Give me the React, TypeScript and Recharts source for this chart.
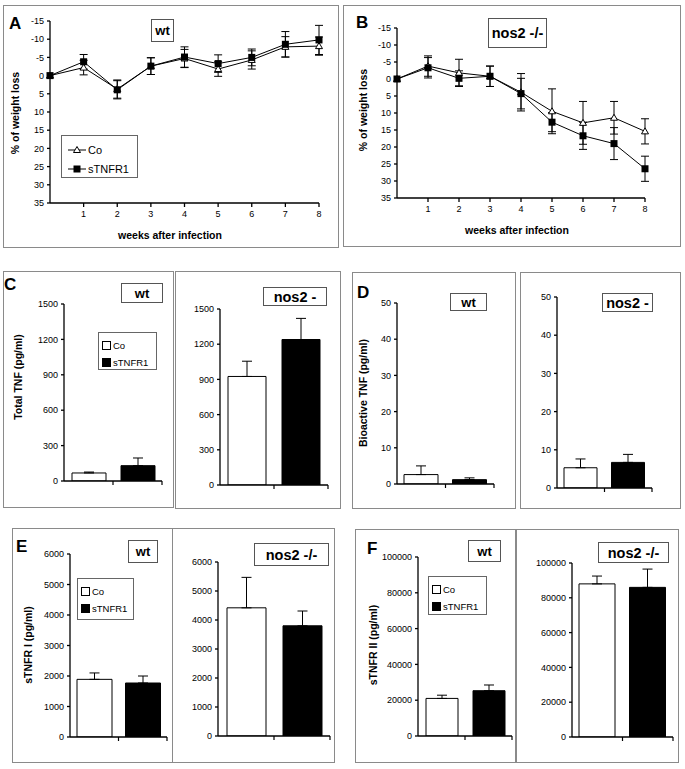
import React from "react";
import {
  LineChart,
  Line,
  BarChart,
  Bar,
  Cell,
  XAxis,
  YAxis,
  ErrorBar,
} from "recharts";

const FONT = '"Liberation Sans", Arial, Helvetica, sans-serif';

// ---- weight loss (panels A, B) ----
const weeks = [0, 1, 2, 3, 4, 5, 6, 7, 8];
const weekTicks = [1, 2, 3, 4, 5, 6, 7, 8];
const lossTicks = [-15, -10, -5, 0, 5, 10, 15, 20, 25, 30, 35];

const wtCo = [0, -2.2, 3.7, -2.6, -4.7, -1.8, -4.3, -7.9, -8.1];
const wtCoErr = [0, 2, 2.5, 2.3, 2.5, 2, 2.5, 2.8, 2.5];
const wtS = [0, -3.8, 3.9, -2.6, -5.1, -3.3, -5.0, -8.6, -9.8];
const wtSErr = [0, 2, 2.5, 2.3, 2.8, 2.4, 2.3, 3.5, 4];

const nosCo = [0, -3.8, -1.8, -0.8, 3.9, 9.5, 12.9, 11.4, 15.4];
const nosCoErr = [0, 3, 4, 3, 5.5, 6.6, 6.3, 4.8, 3.7];
const nosS = [0, -3.3, -0.2, -0.8, 4.3, 12.7, 16.7, 19.0, 26.4];
const nosSErr = [0, 3, 2.2, 3, 4.5, 2.8, 4, 4.7, 3.7];

// ---- bar panels (C-F) ----
const groups = ["Co", "sTNFR1"];

const totalTnfTicks = [0, 300, 600, 900, 1200, 1500];
const totalTnfWt = [68, 130];
const totalTnfWtErr = [8, 65];
const totalTnfNos = [925, 1240];
const totalTnfNosErr = [130, 180];

const bioTnfTicks = [0, 10, 20, 30, 40, 50];
const bioTnfWt = [2.6, 1.2];
const bioTnfWtErr = [2.4, 0.5];
const bioTnfNos = [5.3, 6.7];
const bioTnfNosErr = [2.3, 2.1];

const stnfr1Ticks = [0, 1000, 2000, 3000, 4000, 5000, 6000];
const stnfr1Wt = [1890, 1770];
const stnfr1WtErr = [210, 230];
const stnfr1Nos = [4420, 3800];
const stnfr1NosErr = [1050, 510];

const stnfr2Ticks = [0, 20000, 40000, 60000, 80000, 100000];
const stnfr2Wt = [21000, 25300];
const stnfr2WtErr = [1800, 3200];
const stnfr2Nos = [88000, 86000];
const stnfr2NosErr = [4500, 10500];

const tickStyle = { fontSize: 9, fill: "#000", fontFamily: FONT };

function Frame({ x, y, w, h, color = "#8a8a8a" }: any) {
  return (
    <div
      style={{
        position: "absolute",
        left: x,
        top: y,
        width: w,
        height: h,
        border: `1px solid ${color}`,
        boxSizing: "border-box",
      }}
    />
  );
}

function Tag({ x, y, w, h, text, size = 14 }: any) {
  return (
    <div
      style={{
        position: "absolute",
        left: x,
        top: y,
        width: w,
        height: h,
        border: "1px solid #555",
        boxSizing: "border-box",
        background: "#fff",
        display: "flex",
        alignItems: "center",
        justifyContent: "center",
        fontWeight: "bold",
        fontSize: size,
        whiteSpace: "nowrap",
      }}
    >
      {text}
    </div>
  );
}

function Letter({ x, y, text }: any) {
  return (
    <div style={{ position: "absolute", left: x, top: y, fontSize: 17, fontWeight: "bold", lineHeight: 1 }}>
      {text}
    </div>
  );
}

function SideLabel({ cx, cy, text }: any) {
  return (
    <div
      style={{
        position: "absolute",
        left: cx,
        top: cy,
        transform: "translate(-50%, -50%) rotate(-90deg)",
        fontSize: 10.5,
        fontWeight: "bold",
        whiteSpace: "nowrap",
      }}
    >
      {text}
    </div>
  );
}

function BottomLabel({ cx, cy, text }: any) {
  return (
    <div
      style={{
        position: "absolute",
        left: cx,
        top: cy,
        transform: "translate(-50%, -50%)",
        fontSize: 10.5,
        fontWeight: "bold",
        whiteSpace: "nowrap",
      }}
    >
      {text}
    </div>
  );
}

function Triangle(props: any) {
  const { cx, cy, index } = props;
  if (cx == null || cy == null) return <g key={`t${index}`} />;
  return (
    <path
      key={`t${index}`}
      d={`M${cx},${cy - 3.5} L${cx + 3.5},${cy + 2.5} L${cx - 3.5},${cy + 2.5} Z`}
      fill="#fff"
      stroke="#000"
      strokeWidth={1}
    />
  );
}

function Square(props: any) {
  const { cx, cy, index } = props;
  if (cx == null || cy == null) return <g key={`s${index}`} />;
  return <rect key={`s${index}`} x={cx - 3.5} y={cy - 3.5} width={7} height={7} fill="#000" />;
}

function WeightChart({ co, coErr, s, sErr, g }: any) {
  const data = weeks.map((w, i) => ({ week: w, co: co[i], coErr: coErr[i], s: s[i], sErr: sErr[i] }));
  const yW = 40;
  const mt = 6;
  const mr = 8;
  const xH = 20;
  const width = yW + (g.right - g.ax) + mr;
  const height = g.bottom - g.top + mt + xH;
  return (
    <div style={{ position: "absolute", left: g.ax - yW, top: g.top - mt }}>
      <LineChart width={width} height={height} data={data} margin={{ top: mt, right: mr, bottom: 0, left: 0 }}>
        <XAxis
          type="number"
          dataKey="week"
          domain={[0, 8]}
          ticks={weekTicks}
          interval={0}
          height={xH}
          tickSize={4}
          tickMargin={4}
          stroke="#000"
          strokeWidth={1.3}
          tick={tickStyle}
        />
        <YAxis
          reversed
          domain={[-15, 35]}
          ticks={lossTicks}
          interval={0}
          width={yW}
          tickSize={3}
          tickMargin={3}
          stroke="#000"
          strokeWidth={1.3}
          tick={tickStyle}
        />
        <Line
          dataKey="co"
          stroke="#000"
          strokeWidth={1}
          dot={Triangle}
          activeDot={false}
          isAnimationActive={false}
        >
          <ErrorBar dataKey="coErr" width={4} stroke="#000" strokeWidth={1} direction="y" />
        </Line>
        <Line
          dataKey="s"
          stroke="#000"
          strokeWidth={1}
          dot={Square}
          activeDot={false}
          isAnimationActive={false}
        >
          <ErrorBar dataKey="sErr" width={4} stroke="#000" strokeWidth={1} direction="y" />
        </Line>
      </LineChart>
    </div>
  );
}

function BarBlock({ vals, errs, ticks, g, barSize }: any) {
  const rows = groups.map((name, i) => ({ name, value: vals[i], err: [0, errs[i]] }));
  const yW = 46;
  const mt = 6;
  const mr = 6;
  const xH = 8;
  const plotW = g.right - g.ax;
  const hb = plotW / 4;
  const width = yW + plotW + mr;
  const height = g.bottom - g.top + mt + xH;
  const max = ticks[ticks.length - 1];
  return (
    <div style={{ position: "absolute", left: g.ax - yW, top: g.top - mt }}>
      <BarChart
        width={width}
        height={height}
        data={rows}
        margin={{ top: mt, right: mr, bottom: 0, left: 0 }}
        barCategoryGap={0}
      >
        <XAxis
          dataKey="name"
          height={xH}
          interval={0}
          tickSize={0}
          tickMargin={0}
          stroke="#000"
          strokeWidth={1.3}
          tick={(p: any) => (
            <line key={`x${p.index}`} x1={p.x + hb} x2={p.x + hb} y1={p.y} y2={p.y + 4} stroke="#000" strokeWidth={1.2} />
          )}
        />
        <YAxis
          domain={[0, max]}
          ticks={ticks}
          interval={0}
          width={yW}
          tickSize={3}
          tickMargin={3}
          stroke="#000"
          strokeWidth={1.3}
          tick={tickStyle}
          allowDataOverflow
        />
        <Bar dataKey="value" barSize={barSize} isAnimationActive={false}>
          {rows.map((r, i) => (
            <Cell key={r.name} fill={i === 0 ? "#fff" : "#000"} stroke="#000" strokeWidth={1} />
          ))}
          <ErrorBar dataKey="err" width={5} stroke="#000" strokeWidth={1} direction="y" />
        </Bar>
      </BarChart>
    </div>
  );
}

function BarLegend({ x, y, w, h }: any) {
  return (
    <div
      style={{
        position: "absolute",
        left: x,
        top: y,
        width: w,
        height: h,
        border: "1px solid #666",
        boxSizing: "border-box",
        background: "#fff",
        fontSize: 9.5,
        padding: "5px 0 0 3px",
      }}
    >
      <div style={{ display: "flex", alignItems: "center", height: 15 }}>
        <span style={{ width: 7, height: 7, border: "1px solid #000", background: "#fff", marginRight: 2 }} />
        Co
      </div>
      <div style={{ display: "flex", alignItems: "center", height: 15, marginTop: 2 }}>
        <span style={{ width: 9, height: 9, background: "#000", marginRight: 2 }} />
        sTNFR1
      </div>
    </div>
  );
}

function LineLegend({ x, y, w, h }: any) {
  return (
    <div
      style={{
        position: "absolute",
        left: x,
        top: y,
        width: w,
        height: h,
        border: "1px solid #666",
        boxSizing: "border-box",
        background: "#fff",
        fontSize: 11,
        padding: "6px 0 0 6px",
      }}
    >
      <div style={{ display: "flex", alignItems: "center", height: 16 }}>
        <svg width={18} height={10} style={{ marginRight: 2 }}>
          <line x1={0} y1={5} x2={18} y2={5} stroke="#000" />
          <path d="M9,1.5 L12.5,7.5 L5.5,7.5 Z" fill="#fff" stroke="#000" />
        </svg>
        Co
      </div>
      <div style={{ display: "flex", alignItems: "center", height: 16, marginTop: 3 }}>
        <svg width={18} height={10} style={{ marginRight: 2 }}>
          <line x1={0} y1={5} x2={18} y2={5} stroke="#000" />
          <rect x={5.5} y={1.5} width={7} height={7} fill="#000" />
        </svg>
        sTNFR1
      </div>
    </div>
  );
}

export default function App() {
  return (
    <div
      style={{
        position: "absolute",
        left: 0,
        top: 0,
        width: 685,
        height: 769,
        background: "#fff",
        fontFamily: FONT,
        color: "#000",
        overflow: "hidden",
      }}
    >
      {/* A */}
      <Frame x={3} y={5} w={336} h={243} />
      <WeightChart co={wtCo} coErr={wtCoErr} s={wtS} sErr={wtSErr} g={{ ax: 50, top: 21, bottom: 203, right: 319 }} />
      <Letter x={9} y={15} text="A" />
      <Tag x={151} y={19} w={23} h={23} text="wt" size={13} />
      <LineLegend x={61} y={135} w={77} h={43} />
      <SideLabel cx={15} cy={113} text="% of weight loss" />
      <BottomLabel cx={170} cy={235} text="weeks after infection" />

      {/* B */}
      <Frame x={343} y={5} w={338} h={242} />
      <WeightChart co={nosCo} coErr={nosCoErr} s={nosS} sErr={nosSErr} g={{ ax: 397, top: 28, bottom: 198, right: 645 }} />
      <Letter x={356} y={14} text="B" />
      <Tag x={488} y={18} w={59} h={30} text="nos2 -/-" size={14.5} />
      <SideLabel cx={363} cy={110} text="% of weight loss" />
      <BottomLabel cx={517} cy={230} text="weeks after infection" />

      {/* C */}
      <Frame x={3} y={271} w={171} h={237} />
      <Frame x={175} y={271} w={166} h={238} />
      <BarBlock vals={totalTnfWt} errs={totalTnfWtErr} ticks={totalTnfTicks} g={{ ax: 64, top: 304, bottom: 481, right: 162 }} barSize={34} />
      <BarBlock vals={totalTnfNos} errs={totalTnfNosErr} ticks={totalTnfTicks} g={{ ax: 220, top: 309, bottom: 485, right: 328 }} barSize={38} />
      <Letter x={4} y={276} text="C" />
      <Tag x={121} y={283} w={42} h={20} text="wt" size={13} />
      <Tag x={263} y={287} w={64} h={19} text="nos2 -" size={14.5} />
      <BarLegend x={98} y={332} w={59} h={38} />
      <SideLabel cx={18} cy={377} text="Total TNF (pg/ml)" />

      {/* D */}
      <Frame x={352} y={272} w={164} h={237} />
      <Frame x={520} y={272} w={161} h={237} />
      <BarBlock vals={bioTnfWt} errs={bioTnfWtErr} ticks={bioTnfTicks} g={{ ax: 397, top: 303, bottom: 484, right: 494 }} barSize={34} />
      <BarBlock vals={bioTnfNos} errs={bioTnfNosErr} ticks={bioTnfTicks} g={{ ax: 557, top: 297, bottom: 488, right: 652 }} barSize={33} />
      <Letter x={357} y={284} text="D" />
      <Tag x={450} y={293} w={37} h={18} text="wt" size={13} />
      <Tag x={602} y={293} w={51} h={19} text="nos2 -" size={14.5} />
      <SideLabel cx={363} cy={393} text="Bioactive TNF (pg/ml)" />

      {/* E */}
      <Frame x={12} y={528} w={161} h={235} />
      <Frame x={172} y={528} w={163} h={235} />
      <BarBlock vals={stnfr1Wt} errs={stnfr1WtErr} ticks={stnfr1Ticks} g={{ ax: 70, top: 554, bottom: 737, right: 167 }} barSize={35} />
      <BarBlock vals={stnfr1Nos} errs={stnfr1NosErr} ticks={stnfr1Ticks} g={{ ax: 218, top: 562, bottom: 736, right: 330 }} barSize={39} />
      <Letter x={16} y={538} text="E" />
      <Tag x={128} y={540} w={30} h={23} text="wt" size={13} />
      <Tag x={254} y={543} w={75} h={23} text="nos2 -/-" size={14.5} />
      <BarLegend x={77} y={578} w={57} h={42} />
      <SideLabel cx={28} cy={645} text="sTNFR I (pg/ml)" />

      {/* F */}
      <Frame x={355} y={529} w={161} h={234} />
      <Frame x={516} y={529} w={163} h={234} />
      <BarBlock vals={stnfr2Wt} errs={stnfr2WtErr} ticks={stnfr2Ticks} g={{ ax: 418, top: 557, bottom: 736, right: 512 }} barSize={32} />
      <BarBlock vals={stnfr2Nos} errs={stnfr2NosErr} ticks={stnfr2Ticks} g={{ ax: 572, top: 563, bottom: 737, right: 673 }} barSize={36} />
      <Letter x={367} y={540} text="F" />
      <Tag x={468} y={540} w={33} h={22} text="wt" size={13} />
      <Tag x={598} y={542} w={71} h={21} text="nos2 -/-" size={14.5} />
      <BarLegend x={428} y={576} w={59} h={39} />
      <SideLabel cx={373} cy={645} text="sTNFR II (pg/ml)" />
    </div>
  );
}
